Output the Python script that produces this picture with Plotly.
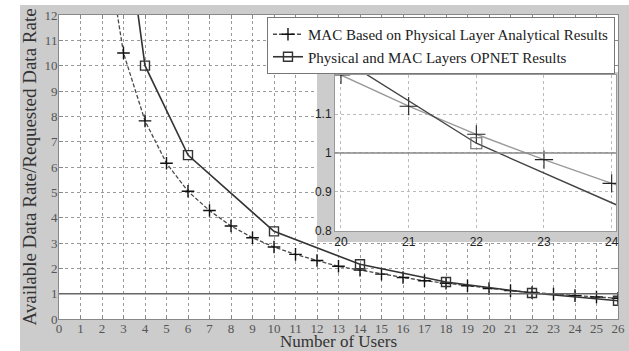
import plotly.graph_objects as go

# ---------------- data ----------------
users_analytical = [2, 3, 4, 5, 6, 7, 8, 9, 10, 11, 12, 13, 14, 15, 16, 17, 18, 19, 20, 21, 22, 23, 24, 25, 26]
ratio_analytical = [15.8, 10.5, 7.82, 6.15, 5.04, 4.28, 3.67, 3.21, 2.84, 2.55, 2.31, 2.08, 1.93, 1.77,
                    1.64, 1.51, 1.41, 1.31, 1.2, 1.12, 1.048, 0.983, 0.922, 0.87, 0.82]
users_opnet = [2, 4, 6, 10, 14, 18, 22, 26]
ratio_opnet = [22.5, 10.0, 6.47, 3.46, 2.16, 1.46, 1.025, 0.72]

series_names = ["MAC Based on Physical Layer Analytical Results",
                "Physical and MAC Layers OPNET Results"]
x_ticks = list(range(0, 27))
y_ticks = list(range(0, 13))
inset_x_ticks = [20, 21, 22, 23, 24]
inset_y_ticks = [0.8, 0.9, 1.0, 1.1]
inset_y_text = ["0.8", "0.9", "1", "1.1"]
x_title = "Number of Users"
y_title = "Available Data Rate/Requested Data Rate"
reference_level = 1

GRAY_BG = "#cccccc"
SERIF = "Liberation Serif, Times New Roman, serif"
SANS = "Liberation Sans, Arial, sans-serif"

fig = go.Figure()

# main traces
fig.add_trace(go.Scatter(
    x=users_analytical, y=ratio_analytical, name=series_names[0], mode="lines+markers",
    line=dict(color="#4a4a4a", width=1.3, dash="4px,2px"),
    marker=dict(symbol="cross-thin", size=9, color="#111111", line=dict(color="#111111", width=1.4)),
    xaxis="x", yaxis="y", hoverinfo="skip"))
fig.add_trace(go.Scatter(
    x=users_opnet, y=ratio_opnet, name=series_names[1], mode="lines+markers",
    line=dict(color="#333333", width=1.6),
    marker=dict(symbol="square-open", size=9, color="#333333", line=dict(color="#333333", width=1.4)),
    xaxis="x", yaxis="y", hoverinfo="skip"))

# frame subplot (gray box behind the inset)
fig.add_trace(go.Scatter(x=[None], y=[None], xaxis="x2", yaxis="y2", showlegend=False, hoverinfo="skip"))

# inset traces
fig.add_trace(go.Scatter(
    x=users_analytical, y=ratio_analytical, mode="lines+markers", showlegend=False,
    line=dict(color="#9a9a9a", width=1.4),
    marker=dict(symbol="cross-thin", size=13, color="#222222", line=dict(color="#222222", width=1.1)),
    xaxis="x3", yaxis="y3", hoverinfo="skip"))
fig.add_trace(go.Scatter(
    x=users_opnet, y=ratio_opnet, mode="lines+markers", showlegend=False,
    line=dict(color="#444444", width=1.4),
    marker=dict(symbol="square-open", size=11, color="#666666", line=dict(color="#666666", width=1.1)),
    xaxis="x3", yaxis="y3", hoverinfo="skip"))

main_axis_common = dict(
    showline=True, linecolor="#888888", linewidth=1, mirror="ticks",
    ticks="inside", ticklen=4, tickcolor="#888888",
    showgrid=True, gridcolor="#9a9a9a", gridwidth=1, griddash="dot",
    zeroline=False, automargin=False,
    tickfont=dict(family=SERIF, size=13, color="#555555"),
)
inset_axis_common = dict(
    showline=True, linecolor="#999999", linewidth=1, mirror=True,
    ticks="", showgrid=True, gridcolor="#bbbbbb", gridwidth=1, griddash="dot",
    zeroline=False, automargin=False,
    tickfont=dict(family=SANS, size=12, color="#222222"),
)

fig.update_layout(
    width=629, height=351,
    margin=dict(l=59, r=11, t=15, b=32),
    paper_bgcolor=GRAY_BG, plot_bgcolor="white",
    showlegend=True,
    xaxis=dict(domain=[0, 1], range=[0, 26], tickvals=x_ticks, anchor="y", ticklabelstandoff=-3,
               title=dict(text=x_title, font=dict(family=SERIF, size=17, color="#333333"), standoff=2),
               **main_axis_common),
    yaxis=dict(domain=[0, 1], range=[0, 12], tickvals=y_ticks, anchor="x", ticklabelstandoff=-2,
               title=dict(text=y_title, font=dict(family=SERIF, size=19, color="#333333"), standoff=2),
               **main_axis_common),
    xaxis2=dict(domain=[0.4615, 1.0], range=[0, 1], visible=False, anchor="y2"),
    yaxis2=dict(domain=[0.2533, 0.8125], range=[0, 1], visible=False, anchor="x2"),
    xaxis3=dict(domain=[0.4937, 0.9964], range=[19.911, 24.064], tickvals=inset_x_ticks, anchor="y3",
                **inset_axis_common),
    yaxis3=dict(domain=[0.2895, 0.8026], range=[0.8, 1.2], tickvals=inset_y_ticks, ticktext=inset_y_text,
                anchor="x3", **inset_axis_common),
    legend=dict(x=0.9946, xanchor="right", y=0.9934, yanchor="top",
                bgcolor="white", bordercolor="#777777", borderwidth=1,
                font=dict(family=SERIF, size=15, color="#222222"),
                tracegroupgap=0, itemwidth=30),
    shapes=[
        # gray frame behind inset
        dict(type="rect", xref="x2", yref="y2", x0=0, x1=1, y0=0, y1=1,
             fillcolor=GRAY_BG, line=dict(width=0), layer="below"),
        # white page strips outside gray panel
        dict(type="rect", xref="paper", yref="paper", x0=-0.106, x1=-0.0698, y0=-0.106, y1=1.05,
             fillcolor="white", line=dict(width=0), layer="below"),
        dict(type="rect", xref="paper", yref="paper", x0=-0.106, x1=1.02, y0=1.0329, y1=1.05,
             fillcolor="white", line=dict(width=0), layer="below"),
        # reference level lines
        dict(type="line", xref="x", yref="y", x0=0, x1=26, y0=reference_level, y1=reference_level,
             line=dict(color="#666666", width=1.5)),
        dict(type="line", xref="x3", yref="y3", x0=19.911, x1=24.064, y0=reference_level, y1=reference_level,
             line=dict(color="#888888", width=1.3)),
    ],
)

fig.write_html("out.html", config={"displayModeBar": False},
               post_script="document.body.style.margin='0px';")
